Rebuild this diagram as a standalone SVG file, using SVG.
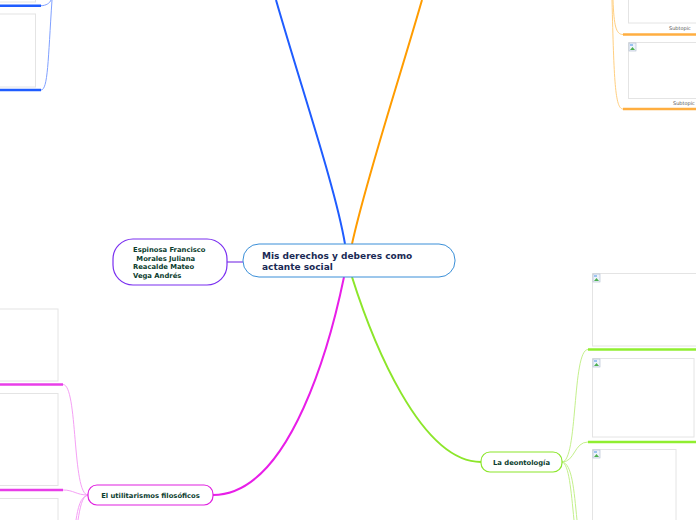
<svg xmlns="http://www.w3.org/2000/svg" width="696" height="520" viewBox="0 0 696 520">
<style>
.box{fill:#fff;stroke:#e4e4e4;stroke-width:1}
.t{font-family:"DejaVu Sans",Verdana,sans-serif;font-weight:bold}
.sub{font-family:"DejaVu Sans",Verdana,sans-serif;font-size:5px;fill:#555}
.thin{fill:none;stroke-width:1}
.main{fill:none;stroke-width:2}
.ul{fill:none;stroke-width:2.5}
</style>
<defs>
<g id="broken">
<rect x="0" y="0" width="7" height="8" fill="#eef3fb" stroke="#aab8cc" stroke-width="0.6"/>
<path d="M1,7 L3.5,4 L6,7 Z" fill="#4caf50"/>
<rect x="1" y="1" width="3" height="2" fill="#9cc3f0"/>
</g>
</defs>

<g id="connectors">
<path class="main" stroke="#1f5cff" d="M345,244 C 336,190 302,90 276,0"/>
<path class="main" stroke="#ff9c00" d="M352,244 C 366,180 396,90 422,0"/>
<path class="main" stroke="#e81ee8" d="M344,277 C 332,335 292,495 213,495"/>
<path class="main" stroke="#8ce62a" d="M352,277 C 372,340 420,462 481,462"/>
<path fill="none" stroke="#b48cf0" stroke-width="2" d="M227,262 H243"/>

<path class="thin" stroke="#7fa0ff" d="M41,5.7 C 46,5.7 50,3 51,0"/>
<path class="thin" stroke="#7fa0ff" d="M41,90 C 48,90 48,60 52,0"/>
<path class="ul" stroke="#1f5cff" d="M0,5.7 H41"/>
<path class="ul" stroke="#1f5cff" d="M0,90 H41"/>

<path class="thin" stroke="#ffcf80" d="M613,0 C 614,26 616,34.5 623,34.5"/>
<path class="thin" stroke="#ffcf80" d="M612,0 C 614,80 615,109 623,109"/>
<path class="ul" stroke="#ffae40" d="M623,34.5 H696"/>
<path class="ul" stroke="#ffae40" d="M623,109 H696"/>

<path class="thin" stroke="#f5a0f5" d="M88,495 C 72,495 78,384.5 63,384.5"/>
<path class="thin" stroke="#f5a0f5" d="M88,495 C 76,495 74,490 63,490"/>
<path class="thin" stroke="#f5a0f5" d="M88,495 C 82,496 80,508 78,520"/>
<path class="thin" stroke="#f5a0f5" d="M88,495 C 80,497 78,508 76,520"/>
<path class="ul" stroke="#e83ee8" d="M0,384.5 H63"/>
<path class="ul" stroke="#e83ee8" d="M0,490 H63"/>

<path class="thin" stroke="#c4f08c" d="M562,462 C 578,462 572,349.5 588,349.5"/>
<path class="thin" stroke="#c4f08c" d="M562,462 C 575,462 574,442 588,442"/>
<path class="thin" stroke="#c4f08c" d="M562,462 C 572,463 574,490 577,520"/>
<path class="thin" stroke="#c4f08c" d="M562,462 C 569,464 571,490 574,520"/>
<path class="ul" stroke="#90ee30" d="M588,349.5 H696"/>
<path class="ul" stroke="#90ee30" d="M588,442 H696"/>
</g>

<g id="blue-images">
<rect class="box" x="-5" y="-20" width="40.5" height="22"/>
<rect class="box" x="-5" y="14" width="40.5" height="73"/>
</g>

<g id="orange-images">
<rect class="box" x="628.5" y="-30" width="80" height="53"/>
<text class="sub" x="669" y="30">Subtopic</text>
<rect class="box" x="628.5" y="42.5" width="80" height="56"/>
<use href="#broken" x="629" y="43"/>
<text class="sub" x="673" y="105">Subtopic</text>
</g>

<g id="pink-images">
<rect class="box" x="-5" y="309" width="63" height="72"/>
<rect class="box" x="-5" y="393.5" width="63" height="92"/>
<rect class="box" x="-5" y="498.5" width="63" height="40"/>
</g>

<g id="green-images">
<rect class="box" x="592.5" y="273.5" width="110" height="72.5"/>
<use href="#broken" x="593" y="274"/>
<rect class="box" x="592.5" y="358.5" width="101.5" height="78.5"/>
<use href="#broken" x="593" y="359"/>
<rect class="box" x="592.5" y="449.5" width="83.5" height="80"/>
<use href="#broken" x="593" y="450"/>
</g>

<g id="central">
<rect x="243" y="244" width="212" height="33" rx="16" fill="#fff" stroke="#3a8fd8" stroke-width="1"/>
<text class="t" font-size="9" fill="#1a2a55"><tspan x="262" y="259">Mis derechos y deberes como</tspan><tspan x="262" y="270">actante social</tspan></text>
</g>

<g id="authors">
<rect x="113" y="239" width="114" height="46" rx="20" fill="#fff" stroke="#7a2ff0" stroke-width="1.2"/>
<text class="t" font-size="6.8" fill="#0b3d2e"><tspan x="133" y="252">Espinosa Francisco</tspan><tspan x="134" y="260.5"> Morales Juliana</tspan><tspan x="133" y="269">Reacalde Mateo</tspan><tspan x="133" y="277.5">Vega Andrés</tspan></text>
</g>

<g id="utilitarismo">
<rect x="88" y="485" width="125" height="20" rx="9" fill="#fff" stroke="#e020e0" stroke-width="1.2"/>
<text class="t" font-size="6.8" fill="#0b3d2e" x="150.5" y="497.5" text-anchor="middle">El utilitarismos filosóficos</text>
</g>

<g id="deontologia">
<rect x="481" y="452" width="81" height="20" rx="9" fill="#fff" stroke="#8ce62a" stroke-width="1.2"/>
<text class="t" font-size="6.8" fill="#0b3d2e" x="521.5" y="464.5" text-anchor="middle">La deontología</text>
</g>
</svg>
